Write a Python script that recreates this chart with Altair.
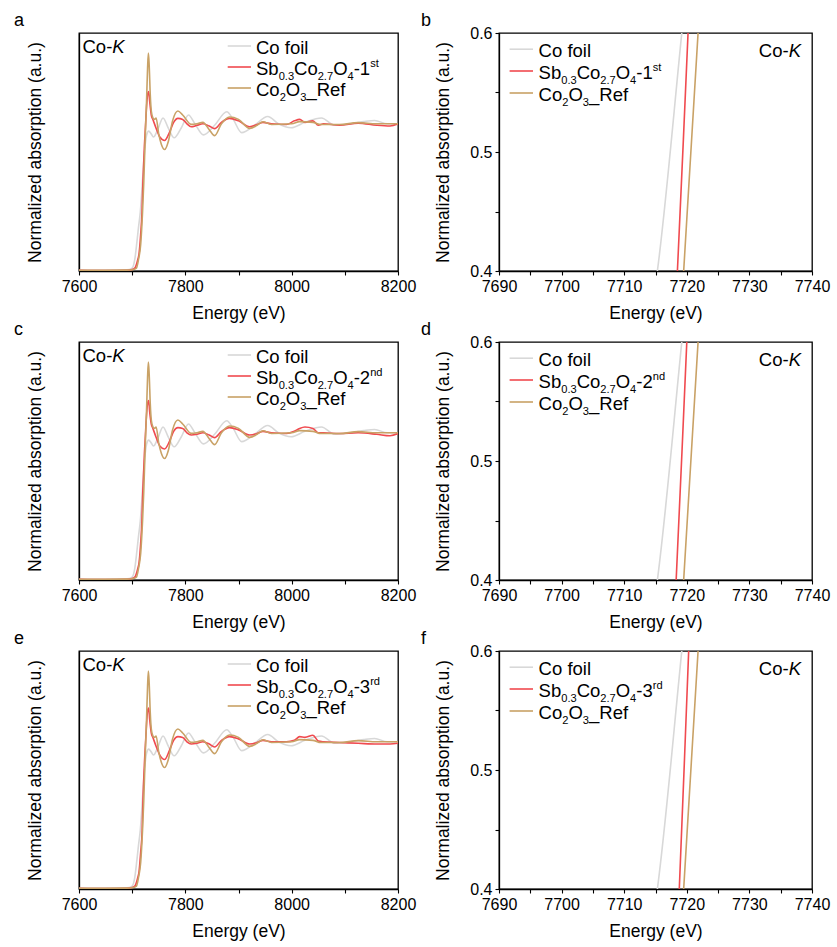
import altair as alt
import pandas as pd

FONT = "Liberation Sans"

# ---------------- data ----------------
E_FOIL = [7600, 7650, 7690, 7700, 7705, 7709, 7712, 7715.3, 7719.2, 7723, 7727, 7731, 7736, 7740,
          7748, 7758, 7768, 7779, 7792, 7806, 7818, 7834, 7855, 7878, 7890, 7906, 7930, 7955, 7975,
          7999, 8025, 8056, 8081, 8110, 8135, 8156, 8180, 8200]
MU_FOIL = [0.005, 0.005, 0.008, 0.02, 0.08, 0.2, 0.3, 0.4, 0.6, 0.8, 0.92, 0.95, 0.93, 0.91,
           0.96, 1.04, 0.97, 0.905, 0.97, 1.06, 1.0, 0.925, 0.99, 1.082, 1.03, 0.94, 0.99, 1.05, 1.0,
           0.973, 1.01, 1.04, 0.99, 1.0, 1.015, 1.023, 1.0, 1.0]

E_SB = [7600, 7650, 7690, 7700, 7705, 7710, 7713, 7716, 7718.5, 7720.2, 7723, 7726, 7729, 7731,
        7733, 7736, 7739, 7745, 7752, 7761, 7770, 7778, 7786, 7795, 7803, 7811, 7822, 7833, 7845,
        7855, 7868, 7883, 7900, 7921, 7935, 7946, 7962, 7990, 8005, 8015, 8025, 8040, 8050, 8060,
        8090, 8125, 8160, 8185, 8200]
MU_SB1 = [0.005, 0.003, 0.005, 0.01, 0.02, 0.07, 0.12, 0.25, 0.4, 0.6, 0.85, 1.05, 1.2, 1.22,
          1.15, 1.06, 1.03, 0.97, 0.91, 0.887, 0.94, 1.01, 1.037, 1.03, 1.0, 0.98, 0.99, 1.0, 0.985,
          0.967, 1.01, 1.037, 1.02, 0.98, 0.995, 1.01, 1.0, 0.995, 1.02, 1.03, 1.01, 1.02, 0.99, 1.0,
          0.99, 1.005, 0.99, 0.985, 1.0]
E_SB2 = [7600, 7650, 7690, 7700, 7705, 7710, 7713, 7716, 7718.3, 7720.0, 7723, 7726, 7729, 7731,
         7733, 7736, 7739, 7745, 7752, 7761, 7770, 7778, 7786, 7795, 7803, 7811, 7822, 7833, 7845,
         7855, 7868, 7883, 7900, 7921, 7935, 7946, 7962, 7990, 8005, 8015, 8025, 8040, 8050, 8060,
         8090, 8125, 8160, 8185, 8200]
MU_SB2 = [0.005, 0.003, 0.005, 0.01, 0.02, 0.07, 0.12, 0.25, 0.4, 0.6, 0.86, 1.06, 1.2, 1.22,
          1.14, 1.06, 1.03, 0.97, 0.91, 0.89, 0.94, 1.01, 1.035, 1.03, 1.0, 0.985, 0.99, 1.0, 0.985,
          0.967, 1.01, 1.035, 1.02, 0.985, 0.995, 1.01, 1.0, 0.995, 1.01, 1.03, 1.04, 1.03, 1.0, 1.0,
          0.995, 1.0, 0.99, 0.98, 0.995]
E_SB3 = [7600, 7650, 7690, 7700, 7705, 7710, 7713, 7716, 7718.8, 7720.3, 7723, 7726, 7729, 7731,
         7733, 7736, 7739, 7745, 7752, 7761, 7770, 7778, 7786, 7795, 7803, 7811, 7822, 7833, 7845,
         7855, 7868, 7883, 7900, 7921, 7935, 7946, 7962, 7990, 8005, 8015, 8025, 8040, 8050, 8060,
         8090, 8125, 8160, 8185, 8200]
MU_SB3 = [0.005, 0.003, 0.005, 0.01, 0.02, 0.07, 0.12, 0.25, 0.4, 0.6, 0.85, 1.05, 1.21, 1.23,
          1.15, 1.06, 1.03, 0.97, 0.91, 0.88, 0.94, 1.01, 1.035, 1.03, 1.0, 0.985, 0.99, 1.0, 0.985,
          0.965, 1.01, 1.035, 1.02, 0.985, 0.995, 1.01, 1.0, 1.0, 1.01, 1.035, 1.03, 1.045, 1.005, 1.0,
          0.995, 0.99, 0.985, 0.985, 0.99]

E_REF = [7600, 7650, 7690, 7700, 7708, 7712, 7716, 7719.5, 7721.8, 7724, 7727, 7729, 7730.5, 7732,
         7734, 7736, 7739, 7742, 7745, 7750, 7755, 7761, 7768, 7776, 7786, 7795, 7811, 7822, 7833,
         7845, 7855, 7868, 7883, 7900, 7921, 7935, 7946, 7962, 8000, 8015, 8040, 8055, 8090, 8125,
         8160, 8200]
MU_REF = [0.005, 0.005, 0.006, 0.008, 0.02, 0.08, 0.18, 0.4, 0.6, 0.85, 1.15, 1.38, 1.48, 1.4,
          1.2, 1.087, 1.04, 1.03, 1.04, 0.93, 0.86, 0.825, 0.88, 1.02, 1.087, 1.06, 0.996, 1.0, 1.01,
          0.96, 0.92, 1.0, 1.046, 1.03, 0.969, 0.99, 1.014, 0.995, 1.0, 1.015, 1.01, 0.995, 0.995,
          1.008, 1.0, 1.0]

SAMPLES = [("1", "st", E_SB, MU_SB1), ("2", "nd", E_SB2, MU_SB2), ("3", "rd", E_SB3, MU_SB3)]
LETTERS = ["a", "b", "c", "d", "e", "f"]
FULL_TICKS = [7600, 7700, 7800, 7900, 8000, 8100, 8200]
ZOOM_TICKS = [7690, 7695, 7700, 7705, 7710, 7715, 7720, 7725, 7730, 7735, 7740]
ZOOM_Y_TICKS = [0.4, 0.45, 0.5, 0.55, 0.6]

C_FOIL = "#d8d8d8"
C_SB = "#f04a4f"
C_REF = "#c9a266"

# Arial / Liberation Sans advance widths (per 1000 em)
ADV = {' ': 278, '-': 333, '.': 278, '_': 556, 'S': 667, 'b': 556, 'C': 722, 'o': 556, 'O': 778,
       'R': 722, 'e': 556, 'f': 278, 's': 500, 't': 278, 'n': 556, 'd': 556, 'r': 333, 'i': 222,
       'l': 222, 'K': 667}
for _d in "0123456789":
    ADV[_d] = 556


def tw(text, size):
    return sum(ADV[c] for c in text) / 1000.0 * size


def one():
    return alt.Data(values=[{"k": 0}])


def txt(t, x, y, size, italic=False):
    return alt.Chart(one()).mark_text(
        text=t, align="left", baseline="alphabetic", font=FONT, fontSize=size,
        fontStyle="italic" if italic else "normal", color="black"
    ).encode(x=alt.value(x), y=alt.value(y))


F = 18.5
SUB = 0.6


def rich(segs, x0, base):
    out = []
    x = x0
    for t, kind in segs:
        size = F if kind == "n" else F * SUB
        dy = 0 if kind == "n" else (5 if kind == "sub" else -7.5)
        out.append(txt(t, x, base + dy, size, italic=(kind == "it")))
        x += tw(t, size)
    return out


def rule(x1, x2, y, color):
    return alt.Chart(one()).mark_rule(color=color, strokeWidth=1.6).encode(
        x=alt.value(x1), x2=alt.value(x2), y=alt.value(y))


def panel(idx, zoom):
    num, sup, e_sb, mu_sb = SAMPLES[idx]
    letter = LETTERS[2 * idx + (1 if zoom else 0)]
    if zoom:
        w = 313
        xs = alt.Scale(domain=[7690, 7740], nice=False, zero=False)
        ys = alt.Scale(domain=[0.4, 0.6], nice=False, zero=False)
        xax = alt.Axis(values=ZOOM_TICKS, format="d",
                       labelExpr="datum.value % 10 == 0 ? datum.label : ''",
                       title="Energy (eV)")
        yax = alt.Axis(values=ZOOM_Y_TICKS, format=".1f",
                       labelExpr="round(datum.value*100) % 10 == 0 ? datum.label : ''",
                       title="Normalized absorption (a.u.)", titlePadding=17)
    else:
        w = 319
        xs = alt.Scale(domain=[7600, 8200], nice=False, zero=False)
        ys = alt.Scale(domain=[0, 1.617], nice=False, zero=False)
        xax = alt.Axis(values=FULL_TICKS, format="d",
                       labelExpr="datum.value % 200 == 0 ? datum.label : ''",
                       title="Energy (eV)")
        yax = alt.Axis(labels=False, ticks=False, title="Normalized absorption (a.u.)",
                       titlePadding=35)

    def line(E, MU, color):
        df = pd.DataFrame({"E": E, "mu": MU})
        return alt.Chart(df).mark_line(color=color, strokeWidth=1.6, clip=True,
                                       interpolate="monotone").encode(
            x=alt.X("E:Q", scale=xs, axis=xax),
            y=alt.Y("mu:Q", scale=ys, axis=yax))

    layers = [line(E_FOIL, MU_FOIL, C_FOIL), line(e_sb, mu_sb, C_SB), line(E_REF, MU_REF, C_REF)]

    if zoom:
        lx1, lx2, tx = 10.6, 34, 39.6
        bases = [23.7, 45.5, 67.5]
        kx = 302 - tw("Co-", F) - tw("K", F)
        kb = 23.7
        lett_x = -78
    else:
        lx1, lx2, tx = 148.7, 172, 177
        bases = [20.5, 41.5, 62.5]
        kx = 3.5
        kb = 19.5
        lett_x = -65

    labels = [
        [("Co foil", "n")],
        [("Sb", "n"), ("0.3", "sub"), ("Co", "n"), ("2.7", "sub"), ("O", "n"), ("4", "sub"),
         ("-" + num, "n"), (sup, "sup")],
        [("Co", "n"), ("2", "sub"), ("O", "n"), ("3", "sub"), ("_Ref", "n")],
    ]
    for b, segs, col in zip(bases, labels, [C_FOIL, C_SB, C_REF]):
        layers.append(rule(lx1, lx2, b - 7.5, col))
        layers += rich(segs, tx, b)
    layers.append(txt("Co-", kx, kb, F))
    layers.append(txt("K", kx + tw("Co-", F), kb, F, italic=True))
    layers.append(txt(letter, lett_x, -7, 18))

    return alt.layer(*layers).properties(width=w, height=238)


panels = []
for i in range(3):
    panels.append(panel(i, False))
    panels.append(panel(i, True))

chart = alt.ConcatChart(
    concat=panels, columns=2, bounds="flush",
    spacing=alt.RowColnumber(row=71, column=101),
).properties(
    padding={"left": 13, "top": 11, "right": 5, "bottom": 5},
    background="white"
).configure_view(
    stroke="black", strokeWidth=1.3
).configure_axis(
    grid=False, domainColor="black", domainWidth=1.3, tickColor="black", tickWidth=1.1,
    tickSize=4, labelFont=FONT, labelFontSize=16, labelColor="black", labelPadding=3,
    titleFont=FONT, titleFontSize=17.5, titleFontWeight="normal", titleColor="black",
    titlePadding=10, labelFlush=False, labelOverlap=False
)

chart.save("out.html", embed_options={"renderer": "svg", "actions": False})
